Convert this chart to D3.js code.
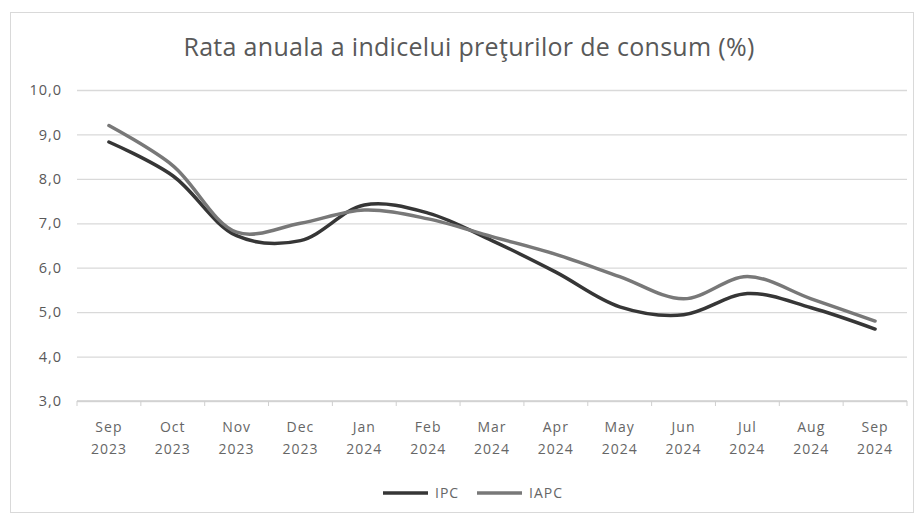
<!DOCTYPE html>
<html>
<head>
<meta charset="utf-8">
<script src="https://cdn.jsdelivr.net/npm/d3@7"></script>
<style>
  body { margin: 0; background: #fff; }
  text { font-family: "Open Sans", "Noto Sans", sans-serif; fill: #595959; }
</style>
</head>
<body>
<div id="wrapper"></div>
<script>
const months = ['Sep', 'Oct', 'Nov', 'Dec', 'Jan', 'Feb', 'Mar', 'Apr', 'May', 'Jun', 'Jul', 'Aug', 'Sep']
const years = ['2023', '2023', '2023', '2023', '2024', '2024', '2024', '2024', '2024', '2024', '2024', '2024', '2024']
const ipcValues = [8.83, 8.07, 6.72, 6.61, 7.41, 7.23, 6.61, 5.90, 5.12, 4.94, 5.42, 5.10, 4.62]
const iapcValues = [9.2, 8.3, 6.8, 7.0, 7.3, 7.1, 6.7, 6.3, 5.8, 5.3, 5.8, 5.3, 4.8]
const yTicks = [3, 4, 5, 6, 7, 8, 9, 10]
const seriesNames = ['IPC', 'IAPC']

function drawChart() {
  const dimensions = {
    width: 919,
    height: 515,
    margin: { top: 90, right: 12, bottom: 114, left: 77 }
  }
  dimensions.boundedWidth = dimensions.width - dimensions.margin.left - dimensions.margin.right
  dimensions.boundedHeight = dimensions.height - dimensions.margin.top - dimensions.margin.bottom

  const series = [
    { name: seriesNames[0], values: ipcValues, color: '#363636' },
    { name: seriesNames[1], values: iapcValues, color: '#787878' }
  ]

  const svg = d3.select('#wrapper')
    .append('svg')
    .attr('width', dimensions.width)
    .attr('height', dimensions.height)

  // chart frame
  svg.append('rect')
    .attr('x', 10.5).attr('y', 12.5)
    .attr('width', 903).attr('height', 500)
    .attr('fill', 'none')
    .attr('stroke', '#d9d9d9')

  svg.append('text')
    .attr('x', 469)
    .attr('y', 56)
    .attr('text-anchor', 'middle')
    .attr('font-size', 25)
    .attr('letter-spacing', 0.3)
    .text('Rata anuala a indicelui preţurilor de consum (%)')

  const bounds = svg.append('g')
    .attr('transform', `translate(${dimensions.margin.left}, ${dimensions.margin.top})`)

  const xScale = d3.scaleBand()
    .domain(d3.range(months.length))
    .range([0, dimensions.boundedWidth])

  const yScale = d3.scaleLinear()
    .domain([3, 10])
    .range([dimensions.boundedHeight, 0])

  // gridlines + y labels
  const yAxis = bounds.append('g')
    .call(d3.axisLeft(yScale)
      .tickValues(yTicks)
      .tickSize(-dimensions.boundedWidth)
      .tickFormat(d => d3.format('.1f')(d).replace('.', ',')))
  yAxis.select('.domain').remove()
  yAxis.selectAll('.tick line').attr('stroke', '#d9d9d9').attr('stroke-width', 1.3)
  yAxis.selectAll('.tick text')
    .attr('x', -15)
    .attr('font-size', 14.5)
    .attr('letter-spacing', 1)
    .attr('fill', '#666')
    .style('font-family', '"Open Sans", sans-serif')

  // x axis baseline with ticks on boundaries
  const xAxisGroup = bounds.append('g')
    .attr('transform', `translate(0, ${dimensions.boundedHeight})`)
  xAxisGroup.append('line')
    .attr('x1', 0).attr('x2', dimensions.boundedWidth)
    .attr('stroke', '#cfcfcf').attr('stroke-width', 1.3)
  xAxisGroup.selectAll('.bound-tick')
    .data(d3.range(months.length + 1))
    .join('line')
    .attr('class', 'bound-tick')
    .attr('x1', d => d * xScale.step()).attr('x2', d => d * xScale.step())
    .attr('y1', 0).attr('y2', 5)
    .attr('stroke', '#cfcfcf')

  const labels = xAxisGroup.selectAll('.x-label')
    .data(d3.range(months.length))
    .join('text')
    .attr('class', 'x-label')
    .attr('text-anchor', 'middle')
    .attr('font-size', 14)
    .attr('letter-spacing', 1)
    .style('fill', '#666')
  labels.append('tspan')
    .attr('x', d => xScale(d) + xScale.bandwidth() / 2)
    .attr('y', 31)
    .text(d => months[d])
  labels.append('tspan')
    .attr('x', d => xScale(d) + xScale.bandwidth() / 2)
    .attr('y', 53)
    .text(d => years[d])

  const lineGenerator = d3.line()
    .x((d, i) => xScale(i) + xScale.bandwidth() / 2)
    .y(d => yScale(d))
    .curve(d3.curveCatmullRom.alpha(0.5))

  bounds.append('g')
    .selectAll('path')
    .data(series)
    .join('path')
    .attr('d', d => lineGenerator(d.values))
    .attr('fill', 'none')
    .attr('stroke', d => d.color)
    .attr('stroke-width', 3.5)
    .attr('stroke-linecap', 'round')

  // legend
  const legend = svg.append('g').attr('transform', 'translate(383, 493)')
  const legendItems = legend.selectAll('g')
    .data(series)
    .join('g')
    .attr('transform', (d, i) => `translate(${i * 94}, 0)`)
  legendItems.append('line')
    .attr('x1', 0).attr('x2', 45)
    .attr('stroke', d => d.color)
    .attr('stroke-width', 3.5)
  legendItems.append('text')
    .attr('x', 52)
    .attr('dy', '0.35em')
    .attr('font-size', 14)
    .attr('letter-spacing', 1)
    .style('fill', '#666')
    .text(d => d.name)
}

drawChart()
</script>
</body>
</html>
